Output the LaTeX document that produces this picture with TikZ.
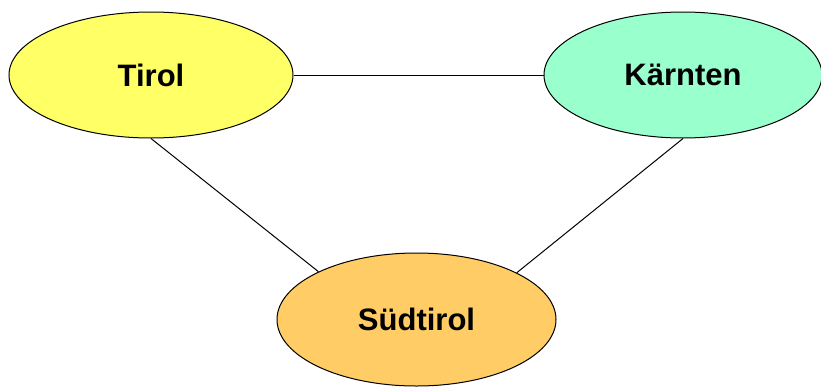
\documentclass[tikz,border=0pt]{standalone}
\usepackage{fontspec}
\setmainfont{Liberation Sans}
\usetikzlibrary{shapes.geometric}
\definecolor{tirolc}{HTML}{FFFF66}
\definecolor{kaerntenc}{HTML}{99FFCC}
\definecolor{suedc}{HTML}{FFCC66}
\begin{document}
\begin{tikzpicture}[x=1pt,y=-1pt,
  region/.style={ellipse, draw=black, line width=1pt, inner sep=0pt,
    font=\fontsize{31}{36}\selectfont\bfseries},
  link/.style={draw=black, line width=1pt}]
\useasboundingbox (0,0) rectangle (821,388);
\node[region, fill=tirolc, minimum width=284pt, minimum height=126pt] (tirol) at (151,75) {Tirol};
\node[region, fill=kaerntenc, minimum width=278pt, minimum height=126pt] (kaernten) at (683,75) {Kärnten};
\node[region, fill=suedc, minimum width=279pt, minimum height=133pt] (sued) at (416.5,319.5) {Südtirol};
\draw[link] (tirol.east) -- (kaernten.west);
\draw[link] (tirol.south) -- (sued.154);
\draw[link] (kaernten.south) -- (sued.25);
\end{tikzpicture}
\end{document}
